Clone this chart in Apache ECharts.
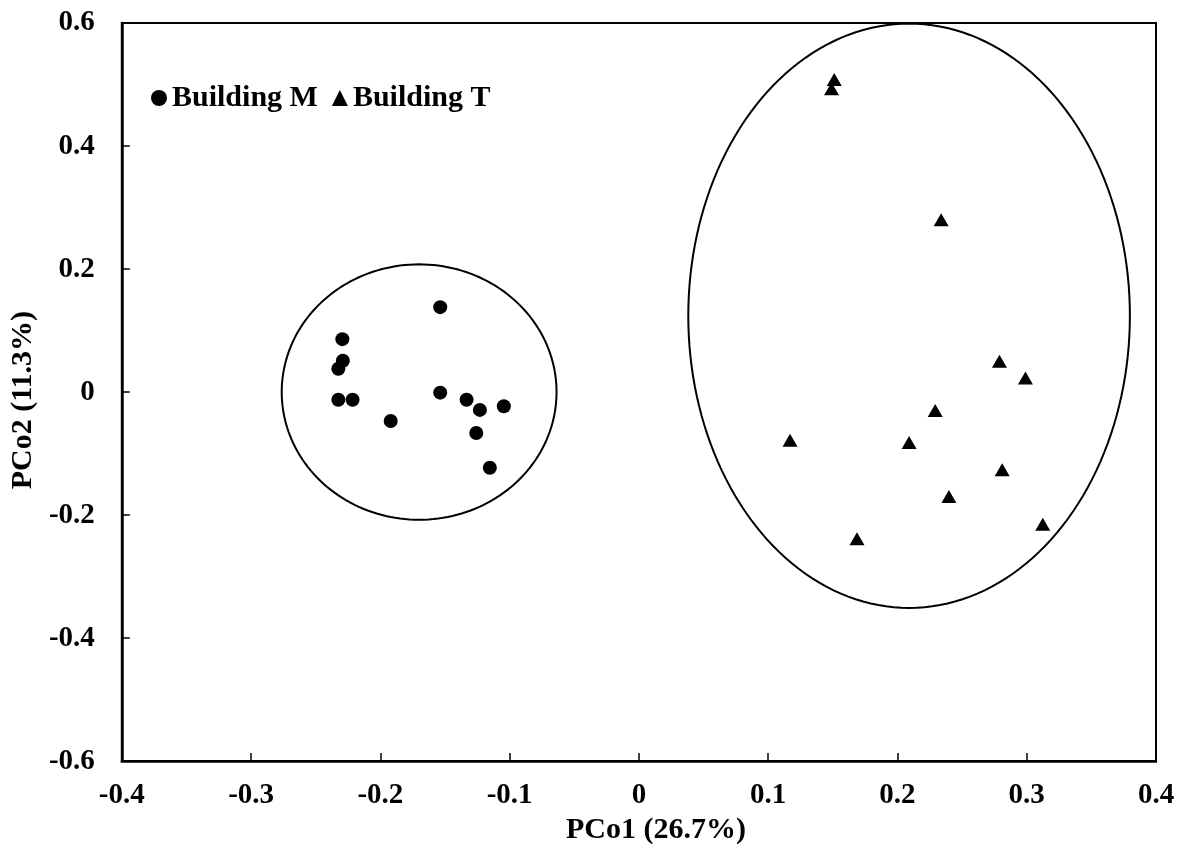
<!DOCTYPE html>
<html><head><meta charset="utf-8">
<script src="https://cdn.jsdelivr.net/npm/echarts@6/dist/echarts.min.js"></script>
<style>html,body{margin:0;padding:0;background:#fff}#c{width:1181px;height:850px}</style>
</head><body><div id="c"></div>
<script>
var seriesNames = ['Building M', 'Building T'];
var mX = [-0.1537, -0.2294, -0.229, -0.2325, -0.2325, -0.2215, -0.192, -0.1537, -0.1333, -0.123, -0.1045, -0.1258, -0.1153];
var mY = [0.138, 0.086, 0.051, 0.038, -0.0125, -0.0125, -0.047, -0.001, -0.0125, -0.029, -0.023, -0.0665, -0.123];
var tX = [0.1511, 0.149, 0.2338, 0.2789, 0.299, 0.2292, 0.1169, 0.209, 0.281, 0.2398, 0.3124, 0.1687];
var tY = [0.508, 0.493, 0.280, 0.050, 0.0227, -0.030, -0.0785, -0.082, -0.1265, -0.170, -0.215, -0.2385];
// ellipses: [cx, cy, rx, ry]
var ellipseM = [-0.170, 0.0, 0.1063, 0.2076];
var ellipseT = [0.209, 0.124, 0.1708, 0.475];
var xTicks = [-0.4, -0.3, -0.2, -0.1, 0, 0.1, 0.2, 0.3, 0.4];
var yTicks = [-0.6, -0.4, -0.2, 0, 0.2, 0.4, 0.6];

function zip(a, b) { return a.map(function (v, i) { return [v, b[i]]; }); }
var font = '"Liberation Serif","Times New Roman",serif';

function ellipseRender(params, api) {
  var cx = api.value(0), cy = api.value(1), rx = api.value(2), ry = api.value(3);
  var pts = [];
  for (var i = 0; i <= 180; i++) {
    var t = i / 180 * Math.PI * 2;
    pts.push(api.coord([cx + rx * Math.cos(t), cy + ry * Math.sin(t)]));
  }
  return { type: 'polygon', shape: { points: pts }, style: { fill: 'none', stroke: '#000', lineWidth: 2 } };
}

var chart = echarts.init(document.getElementById('c'));
chart.setOption({
  animation: false,
  backgroundColor: '#fff',
  textStyle: { fontFamily: font },
  grid: { left: 121, right: 25, top: 23, bottom: 86, show: true, borderColor: '#000', borderWidth: 2, backgroundColor: 'transparent' },
  legend: {
    data: [{ name: seriesNames[0], icon: 'circle' }, { name: seriesNames[1], icon: 'triangle' }],
    left: 146, top: 78, itemWidth: 16, itemHeight: 16, itemGap: 14,
    textStyle: { fontFamily: font, fontWeight: 'bold', fontSize: 30, color: '#000', padding: [0, 0, 0, 0] }
  },
  xAxis: {
    type: 'value', min: -0.4, max: 0.4, interval: 0.1,
    name: 'PCo1 (26.7%)', nameLocation: 'middle', nameGap: 50,
    nameTextStyle: { fontFamily: font, fontWeight: 'bold', fontSize: 30, color: '#000', padding: [0, 0, 0, 34] },
    axisLine: { onZero: false, lineStyle: { color: '#000', width: 2.5 } },
    axisTick: { inside: true, length: 8, lineStyle: { color: '#000', width: 1.5 } },
    axisLabel: { fontFamily: font, fontWeight: 'bold', fontSize: 29, color: '#000', margin: 20,
      formatter: function (v) { var r = Math.round(v * 10) / 10; return xTicks.indexOf(r) >= 0 ? String(r) : ''; } },
    splitLine: { show: false }
  },
  yAxis: {
    type: 'value', min: -0.6, max: 0.6, interval: 0.2,
    name: 'PCo2 (11.3%)', nameLocation: 'middle', nameGap: 82,
    nameTextStyle: { fontFamily: font, fontWeight: 'bold', fontSize: 30, color: '#000', padding: [0, 16, 0, 0] },
    axisLine: { onZero: false, lineStyle: { color: '#000', width: 2.5 } },
    axisTick: { inside: true, length: 8, lineStyle: { color: '#000', width: 1.5 } },
    axisLabel: { fontFamily: font, fontWeight: 'bold', fontSize: 29, color: '#000', margin: 27,
      formatter: function (v) { var r = Math.round(v * 10) / 10; return yTicks.indexOf(r) >= 0 ? String(r) : ''; } },
    splitLine: { show: false }
  },
  series: [
    { name: seriesNames[0], type: 'scatter', symbol: 'circle', symbolSize: 14, itemStyle: { color: '#000', opacity: 1 }, data: zip(mX, mY), z: 3 },
    { name: seriesNames[1], type: 'scatter', symbol: 'triangle', symbolSize: [15, 13], itemStyle: { color: '#000', opacity: 1 }, data: zip(tX, tY), z: 3 },
    { type: 'custom', renderItem: ellipseRender, data: [ellipseM, ellipseT], silent: true, z: 2, clip: false }
  ]
});
</script></body></html>
